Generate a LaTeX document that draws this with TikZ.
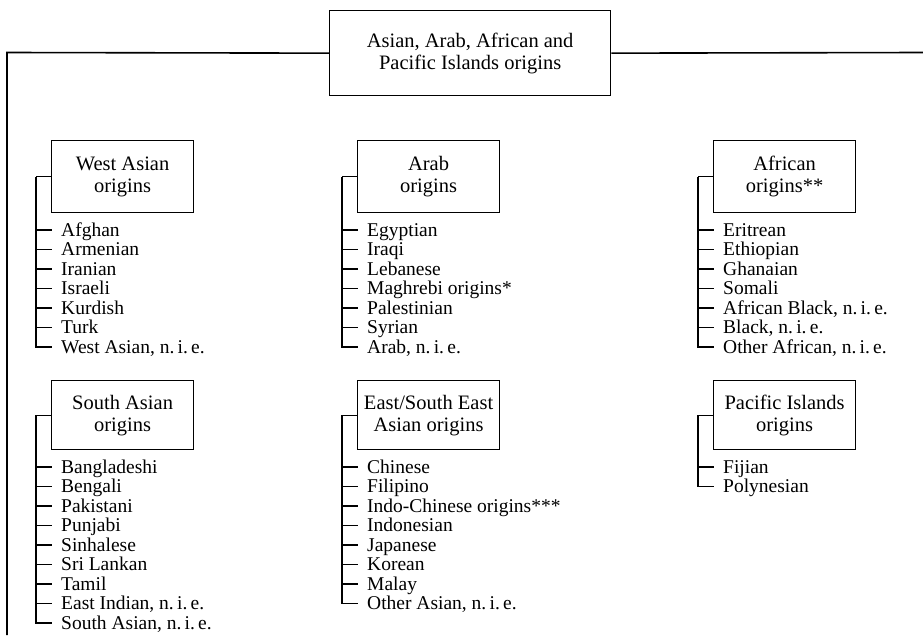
\documentclass[tikz,border=0pt]{standalone}
\usepackage{fontspec}
\setmainfont{Liberation Serif}
\usetikzlibrary{calc}
\tikzset{
  catbox/.style={draw, line width=1.2pt, align=center, inner sep=0pt,
    font=\fontsize{20.5}{22}\selectfont},
  topbox/.style={draw, line width=1.3pt, align=center, inner sep=0pt,
    font=\fontsize{20.5}{22}\selectfont},
  item/.style={inner sep=0pt, text height=15pt, text depth=3pt,
    font=\fontsize{19.5}{19.5}\selectfont},
  frame/.style={line width=1.6pt},
  tree/.style={line width=1.1pt},
}
\newcommand\grp[7]{%
  \node[catbox, minimum width=142pt, minimum height={#4-#3}, anchor=north west] (#1) at (#2,#3) {#5};
  \coordinate (#1t) at ($(#1.west)+(-15,0)$);
  \draw[tree] (#1.west) -- (#1t);
  \foreach \t [count=\i] in {#6} {
    \node[item, anchor=west] (#1\i) at ({#2+10}, {#7+(\i-1)*19.5}) {\t};
    \draw[tree] (#1t) |- ([xshift=-9pt]#1\i.west);
  }
}
\begin{document}
\begin{tikzpicture}[x=1pt,y=-1pt]
\useasboundingbox (0,0) rectangle (923,637);
\node[topbox, minimum width=281pt, minimum height=85pt, anchor=north west] (top) at (329,10)
  {Asian, Arab, African and\\Pacific Islands origins};
\coordinate (fl) at (7,52.5);
\coordinate (fb) at (7,635);
\coordinate (fr) at (923,52.5);
\draw[frame] (top.west) -- (fl) -- (fb);
\draw[frame] (top.east) -- (fr);

\grp{wa}{51}{140}{212}{West Asian\\origins}{Afghan,Armenian,Iranian,Israeli,Kurdish,Turk,{West Asian, n.\,i.\,e.}}{230}
\grp{ar}{357}{140}{212}{Arab\\origins}{Egyptian,Iraqi,Lebanese,Maghrebi origins*,Palestinian,Syrian,{Arab, n.\,i.\,e.}}{230}
\grp{af}{713}{140}{212}{African\\origins**}{Eritrean,Ethiopian,Ghanaian,Somali,{African Black, n.\,i.\,e.},{Black, n.\,i.\,e.},{Other African, n.\,i.\,e.}}{230}
\grp{sa}{51}{380}{449}{South Asian\\origins}{Bangladeshi,Bengali,Pakistani,Punjabi,Sinhalese,Sri Lankan,Tamil,{East Indian, n.\,i.\,e.},{South Asian, n.\,i.\,e.}}{467}
\grp{es}{357}{380}{449}{East/South East\\Asian origins}{Chinese,Filipino,Indo-Chinese origins***,Indonesian,Japanese,Korean,Malay,{Other Asian, n.\,i.\,e.}}{467}
\grp{pi}{713}{380}{449}{Pacific Islands\\origins}{Fijian,Polynesian}{467}
\end{tikzpicture}
\end{document}
